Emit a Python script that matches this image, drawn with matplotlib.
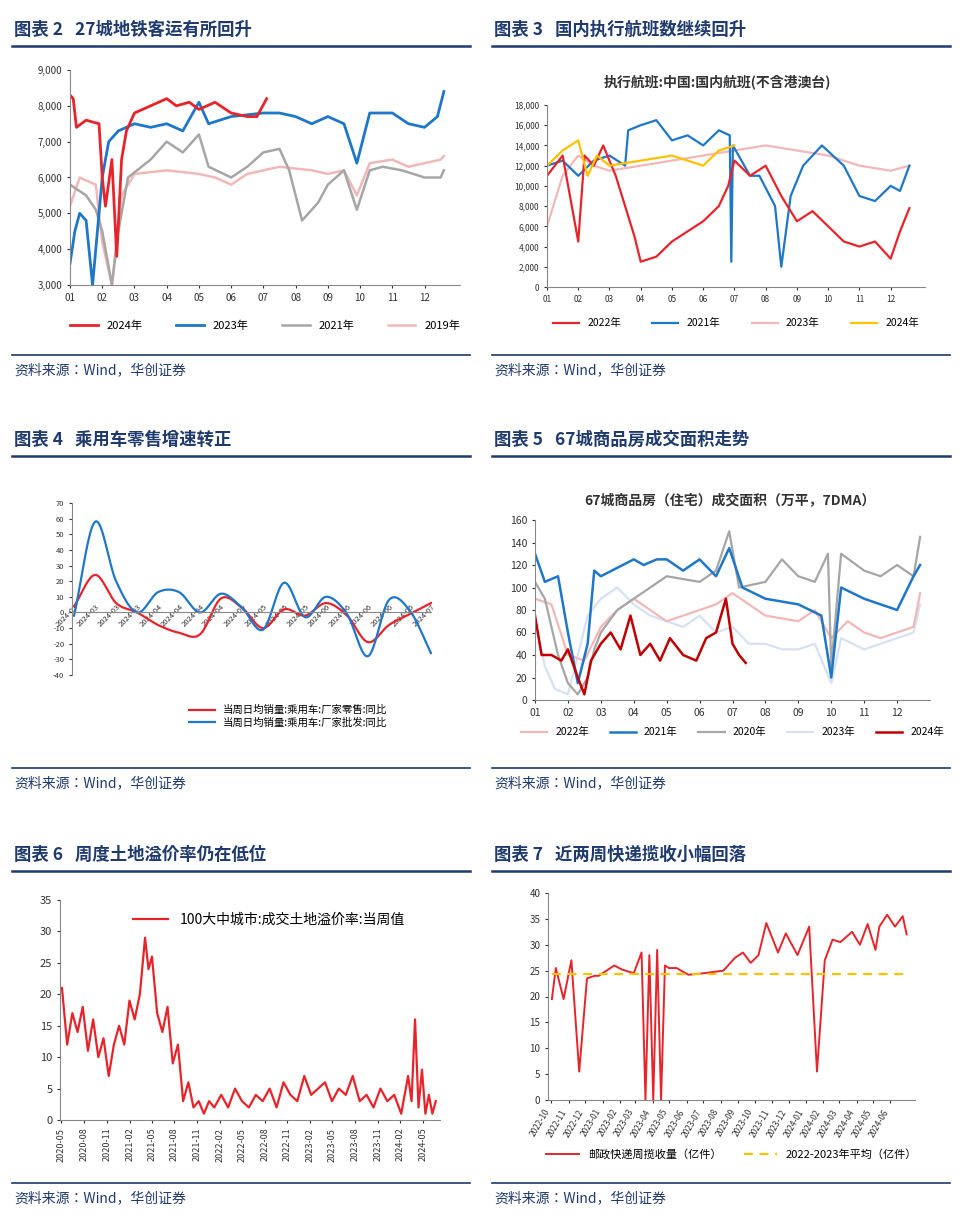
import numpy as np
import pandas as pd
import matplotlib
matplotlib.use('Agg')
import matplotlib.pyplot as plt
from matplotlib import rc

rc('font', family=['Noto Sans CJK JP', 'DejaVu Sans'])
rc('axes', unicode_minus=False)

W, H = 960, 1215
NAVY = '#1F3A6E'
RED = '#E8242B'
BLUE = '#1F77C9'
GRAY = '#A6A6A6'
PINK = '#F2B8B8'
YEL = '#FFC000'
LBLUE = '#D6E2F3'
DRED = '#C00000'

# ---------------- data ----------------
# chart 2: 27 city metro (month position, value)
metro24_x = [1.0, 1.1, 1.2, 1.5, 1.9, 2.0, 2.1, 2.3, 2.45, 2.6, 2.75, 3.0, 3.5, 4.0, 4.3, 4.7, 5.0, 5.5, 6.0, 6.5, 6.8, 7.1]
metro24_y = [8300, 8200, 7400, 7600, 7500, 6000, 5200, 6500, 3800, 6500, 7300, 7800, 8000, 8200, 8000, 8100, 7900, 8100, 7800, 7700, 7700, 8200]
metro23_x = [1.0, 1.15, 1.3, 1.5, 1.7, 1.9, 2.0, 2.2, 2.5, 3.0, 3.5, 4.0, 4.5, 5.0, 5.3, 6.0, 7.0, 7.5, 8.0, 8.5, 9.0, 9.5, 9.9, 10.3, 11.0, 11.5, 12.0, 12.4, 12.6]
metro23_y = [3600, 4500, 5000, 4800, 3000, 5000, 6000, 7000, 7300, 7500, 7400, 7500, 7300, 8100, 7500, 7700, 7800, 7800, 7700, 7500, 7700, 7500, 6400, 7800, 7800, 7500, 7400, 7700, 8400]
metro21_x = [1.0, 1.5, 1.8, 2.0, 2.3, 2.5, 2.8, 3.5, 4.0, 4.5, 5.0, 5.3, 6.0, 6.5, 7.0, 7.5, 7.8, 8.2, 8.7, 9.0, 9.5, 9.9, 10.3, 10.7, 11.3, 12.0, 12.5, 12.6]
metro21_y = [5800, 5500, 5100, 4500, 3000, 4500, 6000, 6500, 7000, 6700, 7200, 6300, 6000, 6300, 6700, 6800, 6200, 4800, 5300, 5800, 6200, 5100, 6200, 6300, 6200, 6000, 6000, 6200]
metro19_x = [1.0, 1.3, 1.8, 2.0, 2.3, 2.6, 3.0, 4.0, 5.0, 5.5, 6.0, 6.5, 7.5, 8.5, 9.0, 9.5, 9.9, 10.3, 11.0, 11.5, 12.0, 12.5, 12.6]
metro19_y = [5200, 6000, 5800, 4200, 3000, 5500, 6100, 6200, 6100, 6000, 5800, 6100, 6300, 6200, 6100, 6200, 5500, 6400, 6500, 6300, 6400, 6500, 6600]
month_labels = ['01', '02', '03', '04', '05', '06', '07', '08', '09', '10', '11', '12']

# chart 3: domestic flights
fl22_x = [1.0, 1.5, 2.0, 2.2, 2.5, 2.8, 3.2, 3.5, 3.8, 4.0, 4.5, 5.0, 5.5, 6.0, 6.5, 6.8, 7.0, 7.5, 8.0, 8.5, 9.0, 9.5, 10.0, 10.5, 11.0, 11.5, 12.0, 12.3, 12.6]
fl22_y = [11000, 13000, 4500, 13000, 12000, 14000, 11000, 8000, 5000, 2500, 3000, 4500, 5500, 6500, 8000, 10000, 12500, 11000, 12000, 9000, 6500, 7500, 6000, 4500, 4000, 4500, 2800, 5500, 7800]
fl21_x = [1.0, 1.5, 2.0, 2.5, 3.0, 3.5, 3.6, 4.0, 4.5, 5.0, 5.5, 6.0, 6.5, 6.85, 6.9, 6.95, 7.5, 7.8, 8.3, 8.5, 8.8, 9.2, 9.8, 10.5, 11.0, 11.5, 12.0, 12.3, 12.6]
fl21_y = [12000, 12500, 11000, 12500, 13000, 12000, 15500, 16000, 16500, 14500, 15000, 14000, 15500, 15000, 2500, 14000, 11000, 11000, 8000, 2000, 9000, 12000, 14000, 12000, 9000, 8500, 10000, 9500, 12000]
fl23_x = [1.0, 1.5, 2.0, 2.5, 3.0, 4.0, 5.0, 6.0, 7.0, 8.0, 9.0, 10.0, 11.0, 12.0, 12.6]
fl23_y = [6000, 11000, 13000, 12000, 11500, 12000, 12500, 13000, 13500, 14000, 13500, 13000, 12000, 11500, 12000]
fl24_x = [1.0, 1.5, 2.0, 2.3, 2.6, 3.0, 4.0, 5.0, 6.0, 6.5, 7.0]
fl24_y = [12000, 13500, 14500, 11000, 13000, 12000, 12500, 13000, 12000, 13500, 14000]

# chart 4: passenger car retail yoy
car_labels = ['2024-03', '2024-03', '2024-03', '2024-03', '2024-04', '2024-04', '2024-04', '2024-04', '2024-05',
              '2024-05', '2024-05', '2024-05', '2024-06', '2024-06', '2024-06', '2024-06', '2024-06', '2024-07']
car_retail = [4, 24, 6, 0, -8, -13, -14, 9, 3, -10, 2, -2, 6, -2, -19, -8, -1, 6]
car_whole = [-2, 58, 20, 0, 13, 13, 0, 12, 3, -11, 19, -3, 10, -1, -28, 8, 1, -26]

# chart 5: 67 city housing
h22_x = [1.0, 1.5, 2.0, 2.5, 3.0, 3.5, 4.0, 5.0, 6.0, 6.5, 7.0, 8.0, 9.0, 9.5, 10.0, 10.5, 11.0, 11.5, 12.0, 12.5, 12.7]
h22_y = [90, 85, 40, 35, 65, 80, 90, 70, 80, 85, 95, 75, 70, 80, 55, 70, 60, 55, 60, 65, 95]
h21_x = [1.0, 1.3, 1.7, 2.0, 2.3, 2.6, 2.8, 3.0, 4.0, 4.3, 4.7, 5.0, 5.5, 6.0, 6.5, 6.9, 7.3, 8.0, 9.0, 9.7, 10.0, 10.3, 11.0, 11.5, 12.0, 12.5, 12.7]
h21_y = [130, 105, 110, 60, 15, 50, 115, 110, 125, 120, 125, 125, 115, 125, 110, 135, 100, 90, 85, 75, 20, 100, 90, 85, 80, 110, 120]
h20_x = [1.0, 1.3, 1.7, 2.0, 2.3, 2.6, 2.8, 3.0, 3.5, 4.0, 4.5, 5.0, 6.0, 6.5, 6.9, 7.2, 8.0, 8.5, 9.0, 9.5, 9.9, 10.0, 10.3, 11.0, 11.5, 12.0, 12.5, 12.7]
h20_y = [105, 90, 40, 15, 5, 20, 45, 60, 80, 90, 100, 110, 105, 115, 150, 100, 105, 125, 110, 105, 130, 30, 130, 115, 110, 120, 110, 145]
h23_x = [1.0, 1.3, 1.6, 2.0, 2.3, 2.6, 3.0, 3.5, 4.0, 4.5, 5.0, 5.5, 6.0, 6.5, 7.0, 7.5, 8.0, 8.5, 9.0, 9.5, 10.0, 10.3, 11.0, 11.5, 12.0, 12.5, 12.7]
h23_y = [70, 30, 10, 5, 40, 75, 90, 100, 85, 75, 70, 65, 75, 60, 65, 50, 50, 45, 45, 50, 15, 55, 45, 50, 55, 60, 85]
h24_x = [1.0, 1.2, 1.5, 1.8, 2.0, 2.3, 2.5, 2.7, 3.0, 3.3, 3.6, 3.9, 4.2, 4.5, 4.8, 5.1, 5.5, 5.9, 6.2, 6.5, 6.8, 7.0, 7.2, 7.4]
h24_y = [75, 40, 40, 35, 45, 20, 5, 35, 50, 60, 45, 75, 40, 50, 35, 55, 40, 35, 55, 60, 90, 50, 40, 33]
h_labels = ['01', '02', '03', '04', '05', '06', '07', '08', '09', '10', '11', '12']

# chart 6: land premium (weekly, read as key points)
land_dates = ['2020-05-03', '2020-05-24', '2020-06-14', '2020-07-05', '2020-07-26', '2020-08-16', '2020-09-06',
              '2020-09-27', '2020-10-18', '2020-11-08', '2020-11-29', '2020-12-20', '2021-01-10', '2021-01-31',
              '2021-02-21', '2021-03-14', '2021-04-04', '2021-04-18', '2021-05-02', '2021-05-23', '2021-06-13',
              '2021-07-04', '2021-07-25', '2021-08-15', '2021-09-05', '2021-09-26', '2021-10-17', '2021-11-07',
              '2021-11-28', '2021-12-19', '2022-01-09', '2022-02-06', '2022-03-06', '2022-04-03', '2022-05-01',
              '2022-05-29', '2022-06-26', '2022-07-24', '2022-08-21', '2022-09-18', '2022-10-16', '2022-11-13',
              '2022-12-11', '2023-01-08', '2023-02-05', '2023-03-05', '2023-04-02', '2023-04-30', '2023-05-28',
              '2023-06-25', '2023-07-23', '2023-08-20', '2023-09-17', '2023-10-15', '2023-11-12', '2023-12-10',
              '2024-01-07', '2024-02-04', '2024-03-03', '2024-03-17', '2024-03-31', '2024-04-14', '2024-04-28',
              '2024-05-12', '2024-05-26', '2024-06-09', '2024-06-23']
land_vals = [21, 12, 17, 14, 18, 11, 16, 10, 13, 7, 12, 15, 12, 19, 16, 20, 29, 24, 26, 17, 14, 18, 9, 12,
             3, 6, 2, 3, 1, 3, 2, 4, 2, 5, 3, 2, 4, 3, 5, 2, 6, 4, 3, 7, 4, 5, 6, 3, 5, 4, 7, 3, 4, 2, 5, 3,
             4, 1, 7, 3, 16, 2, 8, 1, 4, 1, 3]

# chart 7: express volume (weekly, key points)
exp_dates = ['2022-10-02', '2022-10-09', '2022-10-23', '2022-11-06', '2022-11-20', '2022-12-04', '2022-12-18',
             '2022-12-25', '2023-01-01', '2023-01-22', '2023-02-05', '2023-02-26', '2023-03-12', '2023-03-19',
             '2023-03-26', '2023-04-02', '2023-04-09', '2023-04-16', '2023-04-23', '2023-04-30', '2023-05-14',
             '2023-06-04', '2023-07-02', '2023-08-06', '2023-08-27', '2023-09-10', '2023-09-24', '2023-10-08',
             '2023-10-22', '2023-11-12', '2023-11-26', '2023-12-17', '2024-01-07', '2024-01-21', '2024-02-04',
             '2024-02-18', '2024-03-03', '2024-03-24', '2024-04-07', '2024-04-21', '2024-05-05', '2024-05-12',
             '2024-05-26', '2024-06-09', '2024-06-23', '2024-06-30']
exp_vals = [19.5, 25.5, 19.5, 27, 5.5, 23.5, 24, 24, 24.5, 26, 25.2, 24.5, 28.5, 0, 28, 0, 29, 0, 26, 25.5,
            25.5, 24.2, 24.5, 25, 27.5, 28.5, 26.5, 28, 34.2, 28.5, 32.2, 28, 33.5, 5.5, 27, 31, 30.5, 32.5,
            30, 34, 29, 33.5, 35.8, 33.5, 35.5, 32]
exp_avg = 24.4

# ---------------- layout helpers ----------------
fig = plt.figure(figsize=(W / 100, H / 100), dpi=100)


def ax_px(x0, y0, x1, y1):
    return fig.add_axes([x0 / W, 1 - y1 / H, (x1 - x0) / W, (y1 - y0) / H])


def hline(x0, x1, y, lw, color):
    fig.add_artist(plt.Line2D([x0 / W, x1 / W], [1 - y / H, 1 - y / H], lw=lw, color=color))


def frame(x0, x1, ytop, ybot, title):
    fig.text((x0 + 2) / W, 1 - ytop / H, title, fontsize=12.5, fontweight='bold', color=NAVY, va='center')
    hline(x0, x1, ytop + 16, 1.8, NAVY)
    hline(x0, x1, ybot, 1.2, NAVY)
    fig.text((x0 + 2) / W, 1 - (ybot + 15) / H, '资料来源：Wind，华创证券', fontsize=10,
             style='italic', color=NAVY, va='center')


def style(ax, fs=7):
    for s in ['top', 'right']:
        ax.spines[s].set_visible(False)
    ax.spines['left'].set_color('#888888')
    ax.spines['bottom'].set_color('#888888')
    ax.tick_params(labelsize=fs, length=2, colors='#333333')


def smooth(xs, ys, n=20):
    # Excel-style smoothed line through the points (Catmull-Rom)
    xs = np.asarray(xs, float); ys = np.asarray(ys, float)
    px = np.concatenate([[2 * xs[0] - xs[1]], xs, [2 * xs[-1] - xs[-2]]])
    py = np.concatenate([[2 * ys[0] - ys[1]], ys, [2 * ys[-1] - ys[-2]]])
    ox, oy = [], []
    t = np.linspace(0, 1, n, endpoint=False)
    for i in range(1, len(px) - 2):
        for p, o in ((px, ox), (py, oy)):
            p0, p1, p2, p3 = p[i - 1], p[i], p[i + 1], p[i + 2]
            o.extend(0.5 * (2 * p1 + (-p0 + p2) * t + (2 * p0 - 5 * p1 + 4 * p2 - p3) * t ** 2
                            + (-p0 + 3 * p1 - 3 * p2 + p3) * t ** 3))
    ox.append(xs[-1]); oy.append(ys[-1])
    return np.array(ox), np.array(oy)


LX0, LX1, RX0, RX1 = 12, 470, 492, 950

# ---------------- chart 2 ----------------
frame(LX0, LX1, 30, 355, '图表 2   27城地铁客运有所回升')
ax = ax_px(70, 70, 460, 285)
ax.plot(metro19_x, metro19_y, color=PINK, lw=1.8, label='2019年')
ax.plot(metro21_x, metro21_y, color=GRAY, lw=1.8, label='2021年')
ax.plot(metro23_x, metro23_y, color=BLUE, lw=2, label='2023年')
ax.plot(metro24_x, metro24_y, color=RED, lw=2, label='2024年')
ax.set_ylim(3000, 9000)
ax.set_xlim(1, 13.1)
ax.set_xticks(range(1, 13), month_labels)
ax.set_yticks(range(3000, 9001, 1000), [f'{v:,}' for v in range(3000, 9001, 1000)])
style(ax)
h, l = ax.get_legend_handles_labels()
ax.legend(h[::-1], l[::-1], ncol=4, loc='upper center', bbox_to_anchor=(0.5, -0.12), frameon=False,
          fontsize=8, handlelength=2.5, columnspacing=3)

# ---------------- chart 3 ----------------
frame(RX0, RX1, 30, 355, '图表 3   国内执行航班数继续回升')
fig.text(717 / W, 1 - 82 / H, '执行航班:中国:国内航班(不含港澳台)', fontsize=10, ha='center', va='center',
         fontweight='bold', color='#333333')
ax = ax_px(547, 105, 925, 287)
ax.plot(fl23_x, fl23_y, color=PINK, lw=1.6, label='2023年')
ax.plot(fl21_x, fl21_y, color=BLUE, lw=1.6, label='2021年')
ax.plot(fl22_x, fl22_y, color=RED, lw=1.6, label='2022年')
ax.plot(fl24_x, fl24_y, color=YEL, lw=1.6, label='2024年')
ax.set_ylim(0, 18000)
ax.set_xlim(1, 13.1)
ax.set_xticks(range(1, 13), month_labels)
ax.set_yticks(range(0, 18001, 2000), [f'{v:,}' for v in range(0, 18001, 2000)])
style(ax, 6)
h, l = ax.get_legend_handles_labels()
order = [2, 1, 0, 3]
ax.legend([h[i] for i in order], [l[i] for i in order], ncol=4, loc='upper center', bbox_to_anchor=(0.5, -0.12),
          frameon=False, fontsize=7.5, handlelength=2.5, columnspacing=3)

# ---------------- chart 4 ----------------
frame(LX0, LX1, 440, 768, '图表 4   乘用车零售增速转正')
ax = ax_px(72, 503, 432, 675)
idx = np.arange(len(car_labels))
sx, sy = smooth(idx, car_retail)
ax.plot(sx, sy, color=RED, lw=1.6, label='当周日均销量:乘用车:厂家零售:同比')
sx, sy = smooth(idx, car_whole)
ax.plot(sx, sy, color=BLUE, lw=1.6, label='当周日均销量:乘用车:厂家批发:同比')
ax.set_ylim(-40, 70)
ax.set_xlim(-0.1, len(car_labels) - 1 + 0.05)
ax.set_yticks(range(-40, 71, 10))
ax.set_xticks(idx, car_labels, rotation=45, ha='right', va='top', rotation_mode='anchor', fontsize=5.5)
for s in ['top', 'right', 'bottom']:
    ax.spines[s].set_visible(False)
ax.spines['left'].set_color('#888888')
ax.axhline(0, color='#888888', lw=0.8)
ax.tick_params(labelsize=5.5, length=2, colors='#333333')
ax.tick_params(axis='x', pad=-52, length=0)
ax.legend(loc='upper center', bbox_to_anchor=(0.6, -0.12), frameon=False, fontsize=7.5, handlelength=2.5,
          labelspacing=0.2)

# ---------------- chart 5 ----------------
frame(RX0, RX1, 440, 768, '图表 5   67城商品房成交面积走势')
fig.text(730 / W, 1 - 500 / H, '67城商品房（住宅）成交面积（万平，7DMA）', fontsize=10, ha='center', va='center',
         fontweight='bold', color='#333333')
ax = ax_px(535, 520, 930, 700)
ax.plot(h23_x, h23_y, color=LBLUE, lw=1.6, label='2023年')
ax.plot(h22_x, h22_y, color=PINK, lw=1.6, label='2022年')
ax.plot(h20_x, h20_y, color=GRAY, lw=1.6, label='2020年')
ax.plot(h21_x, h21_y, color=BLUE, lw=1.8, label='2021年')
ax.plot(h24_x, h24_y, color=DRED, lw=1.8, label='2024年')
ax.set_ylim(0, 160)
ax.set_xlim(1, 13)
ax.set_xticks(range(1, 13), h_labels)
ax.set_yticks(range(0, 161, 20))
style(ax, 7.5)
h, l = ax.get_legend_handles_labels()
order = [1, 3, 2, 0, 4]
ax.legend([h[i] for i in order], [l[i] for i in order], ncol=5, loc='upper center', bbox_to_anchor=(0.5, -0.1),
          frameon=False, fontsize=7.5, handlelength=2.5, columnspacing=2)

# ---------------- chart 6 ----------------
frame(LX0, LX1, 855, 1183, '图表 6   周度土地溢价率仍在低位')
ax = ax_px(60, 900, 440, 1120)
ld = pd.to_datetime(land_dates)
ax.plot(ld, land_vals, color=RED, lw=1.6, label='100大中城市:成交土地溢价率:当周值')
ax.set_ylim(0, 35)
ax.set_xlim(pd.Timestamp('2020-04-25'), pd.Timestamp('2024-07-10'))
lt = pd.date_range('2020-05-01', '2024-05-01', freq='3MS')
ax.set_xticks(lt, [d.strftime('%Y-%m') for d in lt], rotation=90, fontsize=6.5)
ax.set_yticks(range(0, 36, 5))
style(ax, 8)
ax.tick_params(axis='x', labelsize=6.5)
ax.legend(loc='upper center', bbox_to_anchor=(0.55, 1.0), frameon=False, fontsize=10, handlelength=2.5)

# ---------------- chart 7 ----------------
frame(RX0, RX1, 855, 1183, '图表 7   近两周快递揽收小幅回落')
ax = ax_px(548, 893, 915, 1100)
ed = pd.to_datetime(exp_dates)
ax.plot(ed, exp_vals, color=RED, lw=1.4, label='邮政快递周揽收量（亿件）')
ax.plot([ed[0], ed[-1]], [exp_avg, exp_avg], color=YEL, lw=1.6, ls=(0, (4, 3)), label='2022-2023年平均（亿件）')
ax.set_ylim(0, 40)
ax.set_xlim(pd.Timestamp('2022-09-25'), pd.Timestamp('2024-07-15'))
et = pd.date_range('2022-10-01', '2024-06-01', freq='MS')
ax.set_xticks(et, [d.strftime('%Y-%m') for d in et], rotation=60, ha='right', fontsize=6)
ax.set_yticks(range(0, 41, 5))
style(ax, 7)
ax.tick_params(axis='x', labelsize=6)
ax.legend(ncol=2, loc='upper center', bbox_to_anchor=(0.5, -0.19), frameon=False, fontsize=8, handlelength=3,
          columnspacing=2)

fig.savefig('out.png', dpi=100, facecolor='white')
